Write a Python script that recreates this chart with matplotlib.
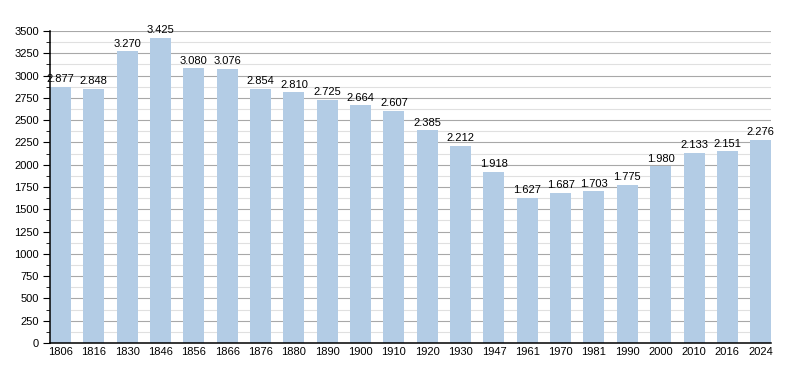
import matplotlib.pyplot as plt
from matplotlib.ticker import MultipleLocator

years = ['1806', '1816', '1830', '1846', '1856', '1866', '1876', '1880', '1890', '1900', '1910',
         '1920', '1930', '1947', '1961', '1970', '1981', '1990', '2000', '2010', '2016', '2024']
population = [2877, 2848, 3270, 3425, 3080, 3076, 2854, 2810, 2725, 2664, 2607,
              2385, 2212, 1918, 1627, 1687, 1703, 1775, 1980, 2133, 2151, 2276]

plt.rcParams['font.family'] = ['Liberation Sans', 'DejaVu Sans']

fig = plt.figure(figsize=(8, 3.73), dpi=100)
ax = fig.add_axes([0.0625, 0.0804, 0.9015, 0.8366])

x = range(len(years))
w = 0.63
ax.bar(x, population, width=w, color='#b3cce5', zorder=2)

# labels with dot as thousands separator
for i, v in zip(x, population):
    ax.text(i, v + 30, f'{v:,}'.replace(',', '.'), ha='center', va='bottom', fontsize=8, zorder=3)

ax.set_xlim(-w / 2, len(years) - 1 + w / 2)
ax.set_ylim(0, 3500)
ax.set_xticks(list(x))
ax.set_xticklabels(years)
ax.yaxis.set_major_locator(MultipleLocator(250))
ax.yaxis.set_minor_locator(MultipleLocator(125))

ax.grid(axis='y', which='major', color='#a8a8a8', linewidth=0.8, zorder=0)
ax.grid(axis='y', which='minor', color='#e0e0e0', linewidth=0.8, zorder=0)

for s in ['top', 'right']:
    ax.spines[s].set_visible(False)
ax.spines['left'].set_linewidth(1.1)
ax.spines['bottom'].set_linewidth(1.1)

ax.tick_params(axis='y', which='major', length=5, labelsize=8, pad=3)
ax.tick_params(axis='y', which='minor', length=3)
ax.tick_params(axis='x', length=0, labelsize=8, pad=3)

plt.savefig('out.png', dpi=100)
